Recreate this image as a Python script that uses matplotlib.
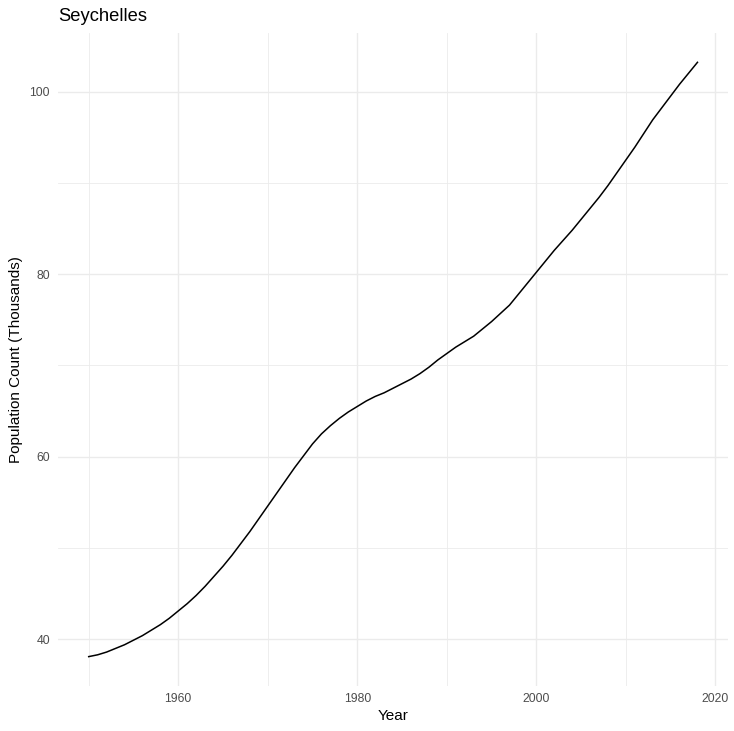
import matplotlib
matplotlib.use("Agg")
import matplotlib.pyplot as plt
from matplotlib.ticker import MultipleLocator

plt.rcParams['font.family'] = ['Liberation Sans', 'DejaVu Sans']

# Seychelles population, thousands
years = list(range(1950, 2019))
population = [
    38.1, 38.3, 38.6, 39.0, 39.4, 39.9, 40.4, 41.0, 41.6, 42.3,
    43.1, 43.9, 44.8, 45.8, 46.9, 48.0, 49.2, 50.5, 51.8, 53.2,
    54.6, 56.0, 57.4, 58.8, 60.1, 61.4, 62.5, 63.4, 64.2, 64.9,
    65.5, 66.1, 66.6, 67.0, 67.5, 68.0, 68.5, 69.1, 69.8, 70.6,
    71.3, 72.0, 72.6, 73.2, 74.0, 74.8, 75.7, 76.6, 77.8, 79.0,
    80.2, 81.4, 82.6, 83.7, 84.8, 86.0, 87.2, 88.4, 89.7, 91.1,
    92.5, 93.9, 95.4, 96.9, 98.2, 99.5, 100.8, 102.0, 103.2,
]

fig = plt.figure(figsize=(7.34, 7.31), dpi=100)
ax = fig.add_axes([0.0794, 0.0611, 0.9123, 0.8943])

ax.plot(years, population, color='black', linewidth=1.1)

# ggplot-like expansion (5% each side)
xr = years[-1] - years[0]
ax.set_xlim(years[0] - 0.05 * xr, years[-1] + 0.05 * xr)
yr = max(population) - min(population)
ax.set_ylim(min(population) - 0.05 * yr, max(population) + 0.05 * yr)

ax.xaxis.set_major_locator(MultipleLocator(20))
ax.xaxis.set_minor_locator(MultipleLocator(10))
ax.yaxis.set_major_locator(MultipleLocator(20))
ax.yaxis.set_minor_locator(MultipleLocator(10))

ax.grid(True, which='major', color='#EBEBEB', linewidth=1.0)
ax.grid(True, which='minor', color='#EBEBEB', linewidth=0.6)
ax.set_axisbelow(True)
for s in ax.spines.values():
    s.set_visible(False)

ax.tick_params(which='both', length=0)
ax.tick_params(axis='x', labelsize=8.8, labelcolor='#4D4D4D', pad=5)
ax.tick_params(axis='y', labelsize=8.8, labelcolor='#4D4D4D', pad=6)

ax.set_xlabel('Year', fontsize=11, color='black', labelpad=3)
ax.set_ylabel('Population Count (Thousands)', fontsize=11, color='black', labelpad=5)
ax.set_title('Seychelles', fontsize=13.2, loc='left', pad=8)

fig.savefig('out.png', dpi=100)
